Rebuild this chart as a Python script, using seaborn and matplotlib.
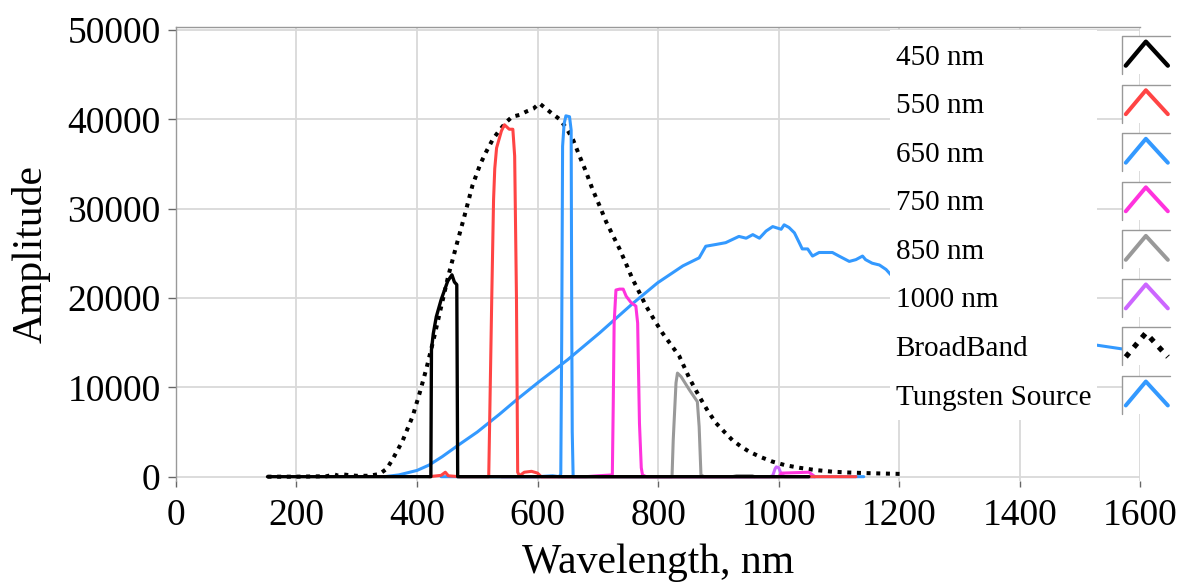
import matplotlib
matplotlib.use('Agg')
import matplotlib.pyplot as plt
import seaborn as sns
import pandas as pd
from matplotlib.lines import Line2D
from matplotlib.patches import Rectangle
from matplotlib.legend_handler import HandlerBase

# Spectra (wavelength in nm, amplitude in counts)
nm450_x = [152, 200, 250, 300, 350, 400, 423, 424, 427, 432, 440, 451, 458, 462, 466, 467.5, 470, 600, 800, 1050]
nm450_y = [0, 0, 0, 0, 0, 0, 0, 14200, 16000, 17900, 19800, 21900, 22600, 21800, 21500, 0, 0, 0, 0, 0]

nm550_x = [420, 440, 447, 452, 470, 519, 521, 524, 527, 529, 532, 540, 545, 553, 559, 562, 565, 567, 570, 578, 590, 600, 606, 640, 800, 1000, 1128]
nm550_y = [0, 150, 500, 100, 0, 0, 8000, 20000, 31000, 34500, 36800, 38700, 39400, 38900, 38900, 35900, 20000, 500, 100, 500, 600, 400, 0, 0, 0, 0, 0]

nm650_x = [440, 460, 600, 625, 636, 638.5, 640, 641.5, 644, 647, 653, 655.7, 656.7, 657.5, 659, 700, 900, 1141]
nm650_y = [0, 0, 0, 100, 0, 300, 15000, 37000, 39500, 40400, 40300, 38800, 17200, 5000, 0, 0, 0, 0]

nm750_x = [540, 600, 680, 700, 724, 725.5, 727, 730, 736, 742, 747, 755, 763, 766, 769, 772, 774, 780, 850, 1000, 1005, 1050, 1060]
nm750_y = [0, 0, 0, 100, 200, 8000, 17200, 20900, 21000, 21000, 20200, 19500, 19100, 17200, 6000, 1000, 200, 0, 0, 0, 400, 500, 0]

nm850_x = [640, 780, 823, 825, 829.6, 832, 838, 852, 865, 868, 871, 876, 900, 923, 930, 956, 960]
nm850_y = [0, 0, 0, 4100, 10500, 11600, 11200, 9700, 8400, 5600, 200, 0, 0, 0, 120, 120, 0]

nm1000_x = [700, 900, 985, 990, 994, 996, 1000, 1004, 1010, 1060]
nm1000_y = [0, 0, 0, 100, 900, 1100, 1000, 300, 0, 0]

broad_x = [152, 200, 250, 263, 270, 278, 290, 300, 320, 338, 350, 360, 376, 393, 405, 416, 428, 440, 452, 465,
           478, 492, 505, 515, 526, 537, 548, 558, 570, 582, 593, 603, 614, 625, 637, 648, 659, 669, 680, 691,
           703, 714, 725, 736, 747, 757, 769, 780, 794, 807, 821, 835, 852, 868, 882, 896, 910, 923, 937, 951,
           970, 989, 1010, 1034, 1060, 1089, 1115, 1145, 1175, 1208]
broad_y = [0, 0, 50, 250, 100, 250, 150, 100, 100, 300, 900, 2000, 4000, 6800, 9500, 12200, 15500, 19000, 22500, 25800,
           29000, 32600, 35000, 36400, 37800, 38800, 39700, 40300, 40500, 40900, 41200, 41800, 41200, 40600, 40000, 39000, 37700, 36000, 34200, 32200,
           30300, 28500, 27000, 25500, 23800, 22200, 20600, 19100, 17500, 16100, 14800, 13500, 11000, 9000, 7400, 6000, 5000, 4100, 3400, 2800,
           2200, 1700, 1300, 1000, 750, 560, 470, 400, 350, 300]

tung_x = [346, 370, 400, 420, 442, 470, 500, 537, 565, 600, 650, 703, 758, 799, 841, 868, 879, 896, 912, 934,
          946, 957, 968, 979, 990, 1004, 1009, 1017, 1026, 1034, 1039, 1048, 1056, 1067, 1089, 1100, 1117, 1128, 1139, 1144,
          1155, 1167, 1178, 1186, 1208, 1250, 1300, 1350, 1380, 1400, 1420, 1500, 1580, 1620]
tung_y = [0, 200, 700, 1300, 2250, 3600, 5000, 7000, 8600, 10500, 13100, 16100, 19400, 21700, 23600, 24500, 25800, 26000, 26200, 26900,
          26700, 27100, 26700, 27500, 28000, 27700, 28200, 27900, 27300, 26200, 25500, 25500, 24700, 25100, 25100, 24700, 24100, 24300, 24700, 24300,
          23900, 23700, 23200, 22600, 22300, 21000, 19500, 18000, 17000, 16500, 16000, 15000, 14200, 13800]

labels = ['450 nm', '550 nm', '650 nm', '750 nm', '850 nm', '1000 nm', 'BroadBand', 'Tungsten Source']
colors = ['black', '#ff4444', '#3399ff', '#ff33dd', '#999999', '#cc66ff', 'black', '#3399ff']
dotted = (0, (1.0, 1.4))
styles = ['-', '-', '-', '-', '-', '-', dotted, '-']
widths = [2.4, 2.2, 2.2, 2.2, 2.2, 2.2, 2.9, 2.2]
xs = [nm450_x, nm550_x, nm650_x, nm750_x, nm850_x, nm1000_x, broad_x, tung_x]
ys = [nm450_y, nm550_y, nm650_y, nm750_y, nm850_y, nm1000_y, broad_y, tung_y]


class ChevronHandler(HandlerBase):
    # boxed "^" legend key like the original
    def create_artists(self, legend, orig_handle, xdescent, ydescent, width, height, fontsize, trans):
        x0, y0 = -xdescent, -ydescent
        box = Rectangle((x0, y0), width, height, facecolor='white', edgecolor='none', transform=trans)
        frame = Line2D([x0, x0, x0 + width], [y0, y0 + height, y0 + height], color='#999999', lw=1.0, transform=trans)
        mark = Line2D([x0 + 0.08 * width, x0 + 0.5 * width, x0 + 0.96 * width],
                      [y0 + 0.22 * height, y0 + 0.85 * height, y0 + 0.22 * height])
        mark.update_from(orig_handle)
        mark.set_linewidth(orig_handle.get_linewidth() * 1.3)
        mark.set_transform(trans)
        return [box, frame, mark]


sns.set_theme(style='white')
plt.rcParams['font.family'] = ['Liberation Serif', 'DejaVu Serif']
plt.rcParams['text.color'] = 'black'
plt.rcParams['axes.labelcolor'] = 'black'

fig = plt.figure(figsize=(11.88, 5.83), dpi=100)
ax = fig.add_axes([0.148, 0.175, 0.812, 0.778])

# draw tungsten first, 450 nm last so it sits on top
for i in reversed(range(len(labels))):
    df = pd.DataFrame({'wavelength': xs[i], 'amplitude': ys[i]})
    sns.lineplot(data=df, x='wavelength', y='amplitude', ax=ax, color=colors[i], linewidth=widths[i],
                 linestyle=styles[i], estimator=None, sort=False, legend=False, zorder=2 + (7 - i) * 0.1)

ax.set_xlim(0, 1600)
ax.set_ylim(-480, 50300)
ax.set_xticks(range(0, 1601, 200))
ax.set_yticks(range(0, 50001, 10000))
ax.grid(True, color='#d9d9d9', lw=1.3)
ax.set_axisbelow(True)

for side in ['right', 'bottom']:
    ax.spines[side].set_visible(False)
for side in ['left', 'top']:
    ax.spines[side].set_color('#999999')
    ax.spines[side].set_linewidth(1.0)

ax.tick_params(axis='x', bottom=True, direction='out', length=4.5, width=1, color='#666666',
               labelsize=27, labelcolor='black', pad=8)
ax.tick_params(axis='y', left=True, direction='out', length=6, width=1, color='#666666',
               labelsize=27, labelcolor='black', pad=5)
ax.set_xlabel('Wavelength, nm', fontsize=30, labelpad=8)
ax.set_ylabel('Amplitude', fontsize=30, labelpad=12)

proxies = [Line2D([], [], color=c, linewidth=w, linestyle=s) for c, w, s in zip(colors, widths, styles)]
blank = [Line2D([], [], alpha=0) for _ in labels]

fig.legend(handles=blank, labels=labels, loc='upper left', bbox_to_anchor=(0.749, 0.948),
           handlelength=0, handletextpad=0, handleheight=1.63, labelspacing=0.36, fontsize=21,
           frameon=True, fancybox=False, framealpha=1, facecolor='white', edgecolor='none',
           borderpad=0.2, borderaxespad=0)
fig.legend(handles=proxies, labels=[''] * len(labels), loc='upper left', bbox_to_anchor=(0.9444, 0.9383),
           handler_map={Line2D: ChevronHandler()}, handlelength=1.64, handletextpad=0, handleheight=1.63,
           labelspacing=0.36, fontsize=21, frameon=False, borderpad=0, borderaxespad=0)

plt.savefig('out.png', dpi=100)
plt.close()
